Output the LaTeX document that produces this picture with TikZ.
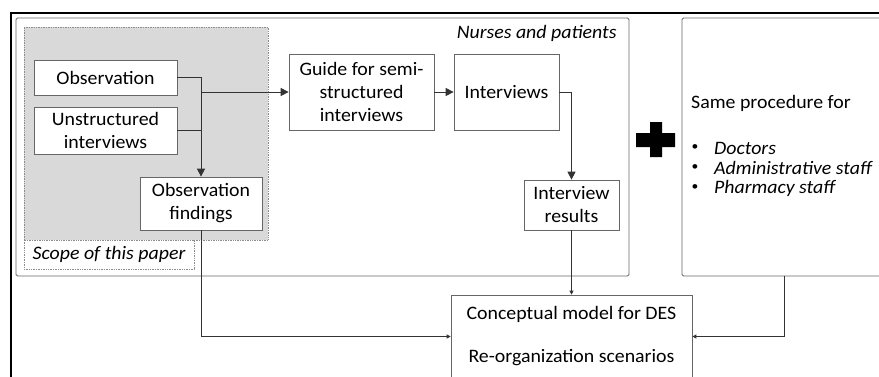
\documentclass[tikz,border=0pt]{standalone}
\usepackage{fontspec}
\setmainfont{Carlito}[FakeStretch=1.045]
\usetikzlibrary{arrows.meta,calc}
\begin{document}
\begin{tikzpicture}[x=1pt,y=-1pt,
  txt/.style={font=\fontsize{19}{23}\selectfont},
  box/.style={txt, draw=black!60, line width=0.7pt, fill=white, inner sep=0pt, align=center},
  frame/.style={draw=black!60, line width=0.8pt, rounded corners=1.5pt, inner sep=0pt},
  conn/.style={draw=black!80, line width=0.8pt},
  arr/.style={conn, -{Triangle[length=8pt,width=8pt]}},
  arrs/.style={conn, -{Triangle[length=4pt,width=4pt]}}
]
\useasboundingbox (0,0) rectangle (879,376);
\clip (0,0) rectangle (879,376);
% outer thick frame
\draw[line width=2pt] (11,400) -- (11,13) -- (900,13);
% nurses frame
\node[frame, minimum width=613pt, minimum height=258pt] (nurses) at (322.5,147) {};
\node[txt, anchor=east, font=\fontsize{19}{23}\selectfont\itshape] (nlabel) at (620,33) {Nurses and patients};
% scope area
\node[draw=black!45, densely dotted, fill=black!15, line width=0.7pt, inner sep=0pt, minimum width=244pt, minimum height=213pt] (scope) at (146,133.5) {};
\node[draw=black!45, densely dotted, fill=white, line width=0.7pt, inner sep=0pt, minimum width=170pt, minimum height=29pt, font=\fontsize{19}{23}\selectfont\itshape] (slabel) at (109,254.5) {Scope of this paper};
% boxes
\node[box, minimum width=143pt, minimum height=35pt] (obs) at (105.5,77.5) {Observation};
\node[box, minimum width=143pt, minimum height=47pt] (unstr) at (105.5,130.5) {Unstructured\\interviews};
\node[box, minimum width=122pt, minimum height=53pt] (find) at (201,203.5) {Observation\\findings};
\node[box, minimum width=145pt, minimum height=76pt] (guide) at (361.5,92) {Guide for semi-\\structured\\interviews};
\node[box, minimum width=105pt, minimum height=76pt] (intv) at (506.5,92) {Interviews};
\node[box, minimum width=95pt, minimum height=50pt] (res) at (571.5,205) {Interview\\results};
\node[box, minimum width=241pt, minimum height=83pt] (concept) at (571.5,336.5) {Conceptual model for DES\\[20pt]Re-organization scenarios};
% same procedure box
\node[frame, minimum width=204pt, minimum height=258pt] (same) at (784,147) {};
\node[txt, anchor=west, inner sep=0pt] (sp) at (691,103) {Same procedure for};
\node[inner sep=0pt, font=\fontsize{13}{15}\selectfont] (b1) at (695,148) {\textbullet};
\node[inner sep=0pt, font=\fontsize{13}{15}\selectfont] (b2) at (695,168) {\textbullet};
\node[inner sep=0pt, font=\fontsize{13}{15}\selectfont] (b3) at (695,188) {\textbullet};
\node[txt, anchor=west, inner sep=0pt, font=\fontsize{19}{23}\selectfont\itshape] (d1) at (714,148) {Doctors};
\node[txt, anchor=west, inner sep=0pt, font=\fontsize{19}{23}\selectfont\itshape] (d2) at (714,168) {Administrative staff};
\node[txt, anchor=west, inner sep=0pt, font=\fontsize{19}{23}\selectfont\itshape] (d3) at (714,188) {Pharmacy staff};
% plus sign
\fill[black] (650,122) -- (662,122) -- (662,133) -- (675,133) -- (675,147) -- (662,147) -- (662,157) -- (650,157) -- (650,147) -- (636,147) -- (636,133) -- (650,133) -- cycle;
% connectors
\draw[arr] (obs.east) -| (find.north);
\draw[conn] (unstr.east) -- (unstr.east -| find.north);
\draw[arr] (find.north |- guide.west) -- (guide.west);
\draw[arr] (guide.east) -- (intv.west);
\draw[arr] (intv.east) -| (res.north);
\draw[arrs] (res.south) -- (concept.north);
\draw[arrs] (find.south) |- (concept.west);
\draw[arrs] (same.south) |- (concept.east);
\end{tikzpicture}
\end{document}
